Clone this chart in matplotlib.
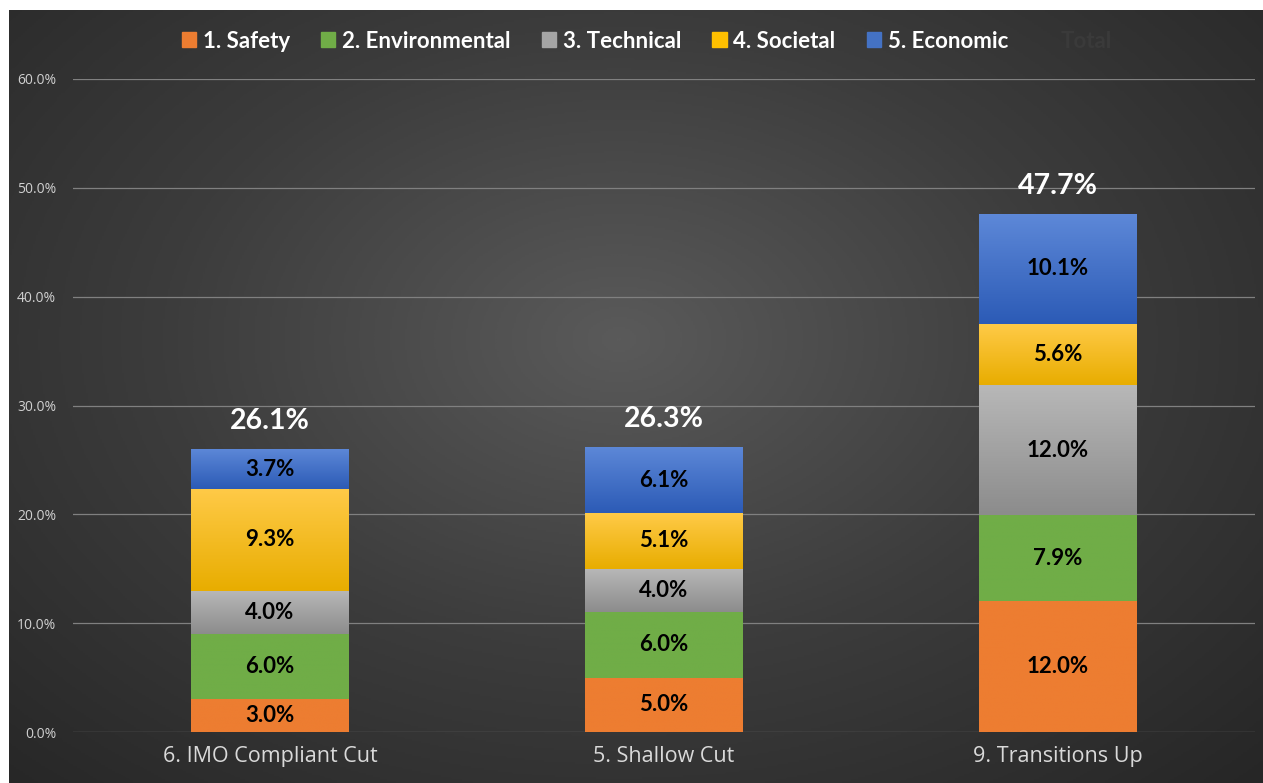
import numpy as np
import matplotlib.pyplot as plt
from matplotlib.colors import LinearSegmentedColormap
from matplotlib.patches import Rectangle

# data
categories = ['6. IMO Compliant Cut', '5. Shallow Cut', '9. Transitions Up']
series = ['1. Safety', '2. Environmental', '3. Technical', '4. Societal', '5. Economic']
safety = [3.0, 5.0, 12.0]
environmental = [6.0, 6.0, 7.9]
technical = [4.0, 4.0, 12.0]
societal = [9.3, 5.1, 5.6]
economic = [3.7, 6.1, 10.1]
totals = [26.1, 26.3, 47.7]

values = [safety, environmental, technical, societal, economic]
# (top colour, bottom colour) per series
grads = [('#ED7D31', '#ED7D31'),
         ('#70AD47', '#70AD47'),
         ('#B8B8B8', '#8C8C8C'),
         ('#FFCA47', '#E8AD00'),
         ('#5D88D8', '#2C5BB6')]
legend_cols = ['#ED7D31', '#70AD47', '#A5A5A5', '#FFC000', '#4472C4']

W, H = 1263, 783
fig = plt.figure(figsize=(W / 100, H / 100), dpi=100, facecolor='white')

# dark radial background (chart area starts a few px in from the top-left)
bg = fig.add_axes([9 / W, 0, 1 - 9 / W, 1 - 10 / H])
bg.set_axis_off()
yy, xx = np.mgrid[0:400, 0:700]
cx, cy = 340, 170
r = np.sqrt(((xx - cx) / 520) ** 2 + ((yy - cy) / 330) ** 2)
r = np.clip(r, 0, 1)
bg_cmap = LinearSegmentedColormap.from_list('bg', ['#5a5a5a', '#3c3c3c', '#262626'])
bg.imshow(r, cmap=bg_cmap, aspect='auto', extent=[0, 1, 0, 1], origin='upper')
bg.set_xlim(0, 1)
bg.set_ylim(0, 1)

ax = fig.add_axes([73 / W, 1 - 732 / H, (1255 - 73) / W, (732 - 79) / H])
ax.patch.set_alpha(0)
x = np.arange(len(categories))
width = 0.4
bottom = np.zeros(len(categories))

for vals, (top_c, bot_c) in zip(values, grads):
    cmap = LinearSegmentedColormap.from_list('g', [bot_c, top_c])
    bars = ax.bar(x, vals, width, bottom=bottom, color=top_c, zorder=2)
    for b, v in zip(bars, vals):
        bx, by = b.get_x(), b.get_y()
        grad = np.linspace(0, 1, 100).reshape(-1, 1)
        im = ax.imshow(grad, cmap=cmap, origin='lower', aspect='auto',
                       extent=[bx, bx + b.get_width(), by, by + b.get_height()], zorder=2.5)
        im.set_clip_path(b)
        ax.text(b.get_x() + b.get_width() / 2, by + v / 2, f'{v:.1f}%',
                ha='center', va='center', fontsize=16, fontweight='bold',
                family='Lato', color='black', zorder=4)
    bottom += np.array(vals)

for xi, t in zip(x, totals):
    ax.text(xi, t + 1.3, f'{t:.1f}%', ha='center', va='bottom', fontsize=20.5,
            fontweight='bold', family='Lato', color='white', zorder=4)

ax.set_xlim(-0.5, 2.5)
ax.set_ylim(0, 60)
ax.set_yticks(np.arange(0, 61, 10))
ax.set_yticklabels([f'{v:.1f}%' for v in np.arange(0, 61, 10)])
ax.set_xticks(x)
ax.set_xticklabels(categories)
ax.tick_params(axis='y', length=0, pad=12, labelsize=10, labelcolor='#D0D0D0')
ax.tick_params(axis='x', length=0, pad=10, labelsize=15.5, labelcolor='#D9D9D9')
for lab in ax.get_xticklabels() + ax.get_yticklabels():
    lab.set_family('Open Sans')
ax.grid(axis='y', color='#808080', lw=0.9, zorder=0)
ax.set_axisbelow(True)
for s in ax.spines.values():
    s.set_visible(False)

handles = [Rectangle((0, 0), 1, 1, color=c) for c in legend_cols]
handles.append(Rectangle((0, 0), 1, 1, color='none'))
leg = fig.legend(handles, series + ['Total'], loc='center',
                 bbox_to_anchor=(0.5 + 15 / W, 1 - 41 / H),
                 ncol=6, frameon=False, handlelength=0.65, handleheight=0.65,
                 handletextpad=0.3, columnspacing=1.4,
                 prop={'family': 'Lato', 'weight': 'bold', 'size': 16})
for txt in leg.get_texts():
    txt.set_color('white')
leg.get_texts()[-1].set_color('#3a3a3a')

fig.savefig('out.png', dpi=100, facecolor='white')
